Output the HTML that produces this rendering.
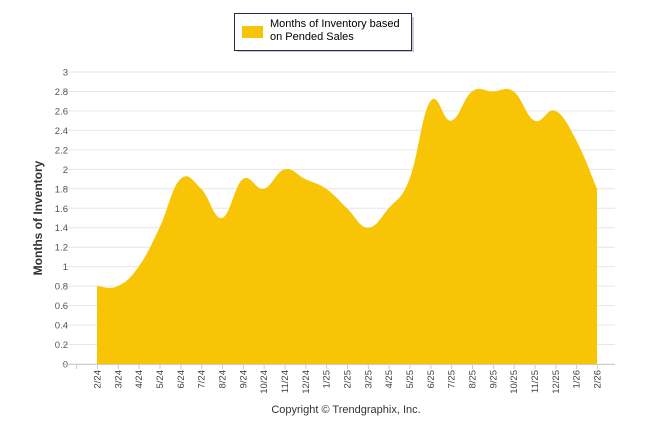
<!DOCTYPE html>
<html><head><meta charset="utf-8"><style>
body{margin:0;background:#fff;}
svg text{font-family:"Liberation Sans",sans-serif;}
</style></head><body>
<svg width="646" height="434">
<g>
<rect x="235" y="15" width="177" height="35" fill="#ccc" transform="translate(2,2)"/>
<rect x="234.5" y="13.5" width="177" height="37" fill="#fff" stroke="#1f2d4d" stroke-width="1"/>
<rect x="242" y="26" width="21" height="12" fill="#f7c406"/>
<text x="270" y="27" font-size="11" fill="#000">Months of Inventory based</text>
<text x="270" y="40" font-size="11" fill="#000">on Pended Sales</text>
</g>
<g id="grid"></g>
<path id="area" fill="#f7c406"/>
<g id="axes"></g>
<text transform="translate(42,218) rotate(-90)" text-anchor="middle" font-size="12" font-weight="bold" fill="#333">Months of Inventory</text>
<text x="346" y="413" text-anchor="middle" font-size="11" fill="#333">Copyright © Trendgraphix, Inc.</text>
</svg>
<script>
const categories=["2/24","3/24","4/24","5/24","6/24","7/24","8/24","9/24","10/24","11/24","12/24","1/25","2/25","3/25","4/25","5/25","6/25","7/25","8/25","9/25","10/25","11/25","12/25","1/26","2/26"];
const values=[0.8,0.8,1.0,1.4,1.9,1.8,1.5,1.9,1.8,2.0,1.9,1.8,1.6,1.4,1.6,1.9,2.7,2.5,2.8,2.8,2.8,2.5,2.6,2.3,1.8];
const yTicks=[0,0.2,0.4,0.6,0.8,1,1.2,1.4,1.6,1.8,2,2.2,2.4,2.6,2.8,3];
const NS="http://www.w3.org/2000/svg";
const x0=97,x1=597,yb=364,yt=72,ymax=3;
const step=(x1-x0)/(categories.length-1);
const X=i=>x0+i*step, Y=v=>yb-(v/ymax)*(yb-yt);
const grid=document.getElementById('grid'),axes=document.getElementById('axes');
function mk(t,a,p){const e=document.createElementNS(NS,t);for(const k in a)e.setAttribute(k,a[k]);p.appendChild(e);return e;}
yTicks.forEach(v=>{
 const l=mk('line',{x1:62,x2:615,y1:Y(v),y2:Y(v),stroke:'#e6e6e6'},grid);
 
 
 const t=mk('text',{x:68,y:Y(v)+3.5,'text-anchor':'end','font-size':9.5,fill:'#555'},axes);
 t.textContent=String(v);
 
 
});
mk('line',{x1:62,x2:615,y1:yb+0.5,y2:yb+0.5,stroke:'#ccc'},axes);
for(let i=-1;i<categories.length;i++){mk('line',{x1:X(i)+0.5,x2:X(i)+0.5,y1:yb,y2:yb+5,stroke:'#ccc'},axes);}
categories.forEach((c,i)=>{
 const t=mk('text',{transform:`translate(${X(i)+3.5},370) rotate(-90)`,'text-anchor':'end','font-size':9.5,fill:'#444'},axes);
 t.textContent=c;
 
 
});
const pts=values.map((v,i)=>[X(i),Y(v)]);
let d=`M${pts[0][0]},${yb} L${pts[0][0]},${pts[0][1]}`;
for(let i=0;i<pts.length-1;i++){
 const p0=pts[Math.max(0,i-1)],p1=pts[i],p2=pts[i+1],p3=pts[Math.min(pts.length-1,i+2)];
 const k=0.2;
 const c1=[p1[0]+(p2[0]-p0[0])*k,p1[1]+(p2[1]-p0[1])*k];
 const c2=[p2[0]-(p3[0]-p1[0])*k,p2[1]-(p3[1]-p1[1])*k];
 d+=` C${c1[0]},${c1[1]} ${c2[0]},${c2[1]} ${p2[0]},${p2[1]}`;
}
d+=` L${pts[pts.length-1][0]},${yb} Z`;
document.getElementById('area').setAttribute('d',d);
</script>
</body></html>
